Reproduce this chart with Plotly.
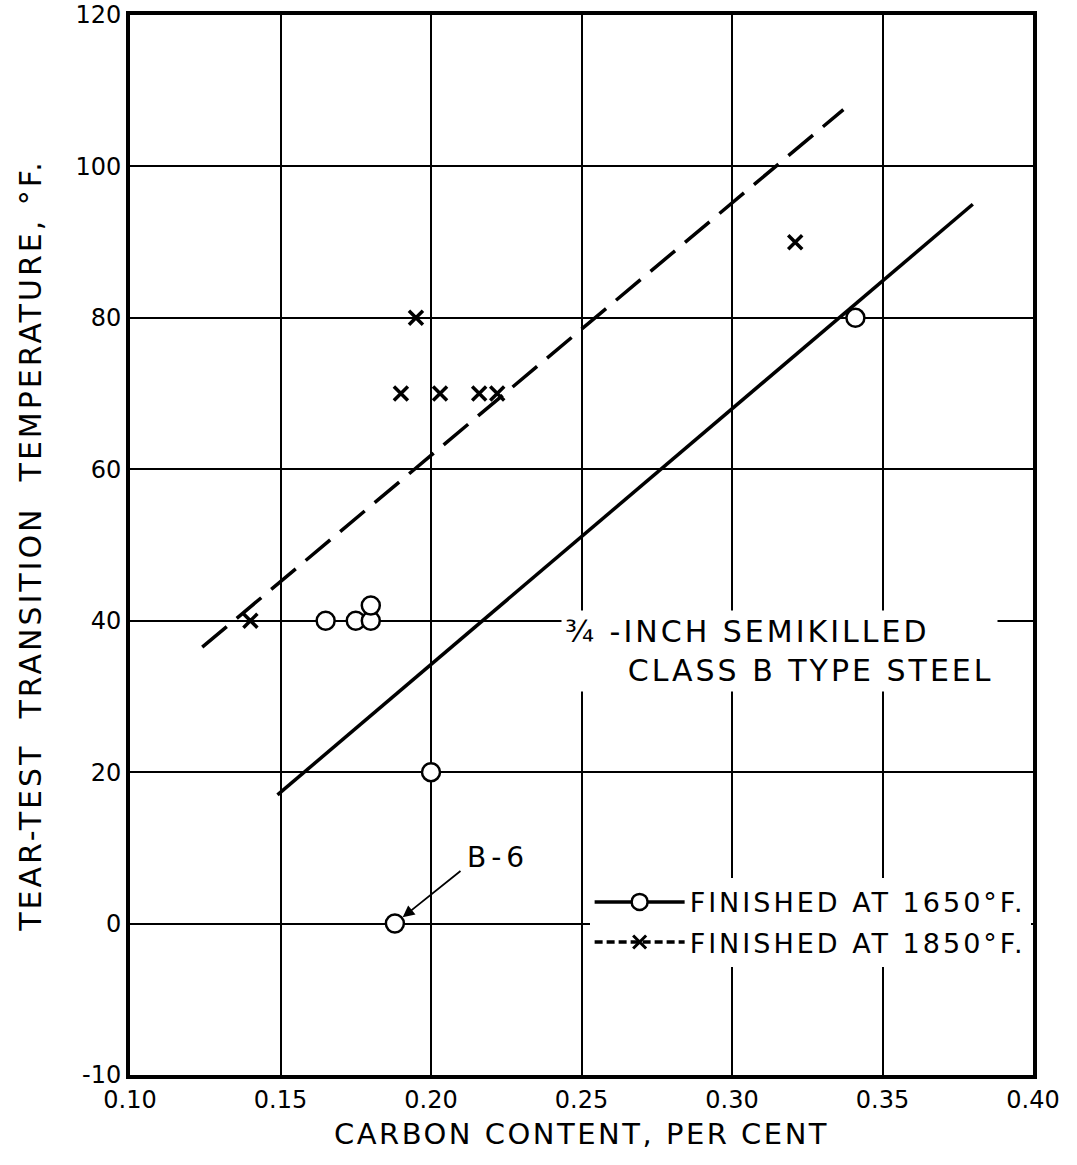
import plotly.graph_objects as go

# Finished at 1650 F (open circles)
c1650_x = [0.165, 0.175, 0.180, 0.180, 0.200, 0.188, 0.341]
c1650_y = [40, 40, 40, 42, 20, 0, 80]
fit1650_x = [0.149, 0.380]
fit1650_y = [17, 95]

# Finished at 1850 F (crosses)
c1850_x = [0.140, 0.195, 0.190, 0.203, 0.216, 0.222, 0.321]
c1850_y = [40, 80, 70, 70, 70, 70, 90]
fit1850_x = [0.124, 0.337]
fit1850_y = [36.5, 107.5]

x_ticks = [0.10, 0.15, 0.20, 0.25, 0.30, 0.35, 0.40]
x_labels = ["0.10", "0.15", "0.20", "0.25", "0.30", "0.35", "0.40"]
# the original drawing gives the -10 step the same length as a 20 step
y_ticks = [-20, 0, 20, 40, 60, 80, 100, 120]
y_labels = ["-10", "0", "20", "40", "60", "80", "100", "120"]

FONT = "DejaVu Sans"


def spaced(text, px):
    # wide lettering like the hand-lettered original
    return f"<span style='letter-spacing:{px}px'>{text}</span>"


fig = go.Figure()

# fitted lines
fig.add_trace(go.Scatter(
    x=fit1650_x, y=fit1650_y, mode="lines",
    line=dict(color="black", width=3.5), showlegend=False, hoverinfo="skip"
))
fig.add_trace(go.Scatter(
    x=fit1850_x, y=fit1850_y, mode="lines",
    line=dict(color="black", width=3.5, dash="32px,13px"), showlegend=False, hoverinfo="skip"
))

# data points
fig.add_trace(go.Scatter(
    x=c1650_x, y=c1650_y, mode="markers", showlegend=False,
    marker=dict(symbol="circle", size=18, color="white",
                line=dict(color="black", width=2.5)),
))
fig.add_trace(go.Scatter(
    x=c1850_x, y=c1850_y, mode="markers", showlegend=False,
    marker=dict(symbol="x-thin", size=14, color="black",
                line=dict(color="black", width=3.5)),
))

# legend-only entries
fig.add_trace(go.Scatter(
    x=[None], y=[None], mode="lines+markers", name=spaced("FINISHED AT 1650°F.", 3),
    legendgroup="a",
    line=dict(color="black", width=3.5),
    marker=dict(symbol="circle", size=17, color="white",
                line=dict(color="black", width=2.5)),
))
fig.add_trace(go.Scatter(
    x=[None], y=[None], mode="lines+markers", name=spaced("FINISHED AT 1850°F.", 3),
    legendgroup="b",
    line=dict(color="black", width=3.5, dash="8px,4px"),
    marker=dict(symbol="x-thin", size=13, color="black",
                line=dict(color="black", width=3)),
))

fig.add_annotation(
    x=0.188, y=0, ax=0.2103, ay=7.1, axref="x", ayref="y",
    text="", showarrow=True, arrowhead=2, arrowsize=1.3, arrowwidth=1.8,
    arrowcolor="black", standoff=10
)
fig.add_annotation(
    x=0.2112, y=8.7, text=spaced("B-6", 5), showarrow=False, xanchor="left",
    font=dict(family=FONT, size=28, color="black"), bgcolor="white"
)
fig.add_annotation(
    x=0.2432, y=36, xanchor="left", showarrow=False, align="left",
    text=spaced("¾ -INCH SEMIKILLED", 3) + "<br>"
    + spaced("\u00a0\u00a0\u00a0\u00a0\u00a0CLASS B TYPE STEEL", 3),
    font=dict(family=FONT, size=30, color="black"), bgcolor="white", borderpad=3
)

fig.update_layout(
    width=1077, height=1165,
    margin=dict(l=130, r=44, t=15, b=90),
    paper_bgcolor="white", plot_bgcolor="white",
    font=dict(family=FONT, color="black"),
    showlegend=True,
    legend=dict(
        x=0.509, y=0.186, xanchor="left", yanchor="top",
        bgcolor="white", font=dict(family=FONT, size=27, color="black"),
        itemwidth=90, tracegroupgap=2,
    ),
)
fig.update_xaxes(
    range=[0.10, 0.40], tickvals=x_ticks, ticktext=x_labels, automargin=False,
    showgrid=True, gridcolor="black", gridwidth=2,
    showline=True, linecolor="black", linewidth=4, mirror=True,
    zeroline=False, ticks="", tickfont=dict(family=FONT, size=24),
    ticklabeloverflow="allow",
    title=dict(text=spaced("CARBON CONTENT, PER CENT", 2.5),
               font=dict(family=FONT, size=29), standoff=12),
)
fig.update_yaxes(
    range=[-20, 120], tickvals=y_ticks, ticktext=y_labels, automargin=False,
    showgrid=True, gridcolor="black", gridwidth=2,
    showline=True, linecolor="black", linewidth=4, mirror=True,
    zeroline=False, ticks="", tickfont=dict(family=FONT, size=24),
    ticklabeloverflow="allow",
    title=dict(text=spaced("TEAR-TEST  TRANSITION  TEMPERATURE, °F.", 3),
               font=dict(family=FONT, size=30), standoff=26),
)

# drop the page's default body margin so the figure fills the window
fig.write_html("out.html", config={"displayModeBar": False},
               post_script="document.body.style.margin='0';")
